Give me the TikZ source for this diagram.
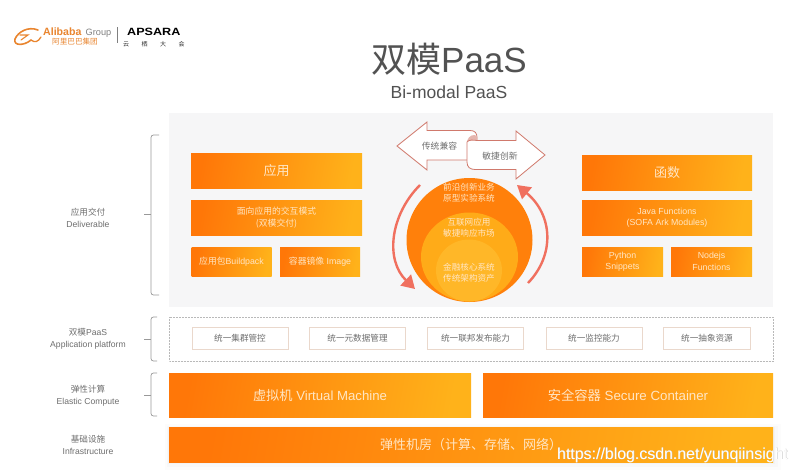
\documentclass[tikz,border=0pt]{standalone}
\usepackage{fontspec}
\setmainfont{Liberation Sans}
\newfontfamily\cjk{Noto Sans CJK SC}
\usetikzlibrary{arrows.meta}
\definecolor{gradL}{HTML}{FF7708}
\definecolor{gradR}{HTML}{FFB21A}
\definecolor{softTxt}{HTML}{FFE6C4}
\definecolor{greyTxt}{HTML}{6E6E6E}
\definecolor{panelBg}{HTML}{F6F6F7}
\definecolor{rim}{HTML}{EAD8CC}
\definecolor{salmon}{HTML}{F0705F}
\definecolor{arrowRim}{HTML}{D0796C}
\definecolor{logoOrange}{HTML}{E9852F}
\tikzset{
  x=1pt,y=-1pt,
  gradbox/.style={left color=gradL,right color=gradR,shading angle=80,draw=none,text=softTxt,align=center,inner sep=0pt,font=\fontsize{8.8}{11.5}\selectfont},
  platbox/.style={draw=rim,fill=white,line width=.7pt,text=greyTxt,inner sep=0pt,minimum height=22pt,font=\cjk\fontsize{8.6}{11}\selectfont},
  layerlabel/.style={text=greyTxt,align=center,inner sep=0pt,font=\fontsize{8.6}{12}\selectfont},
  bracket/.style={draw=greyTxt!70,line width=.7pt,rounded corners=2.5pt},
  cycle arrow/.style={draw=salmon,line width=2.4pt,-{Triangle[length=13pt,width=15pt]}},
  blockarrow/.style={draw=arrowRim,fill=white,line width=.8pt,line join=miter},
  ballLabel/.style={text=softTxt,align=center,inner sep=0pt,font=\cjk\fontsize{8.6}{11.2}\selectfont},
}
\begin{document}
\begin{tikzpicture}
\useasboundingbox (0,0) rectangle (798,474);
\fill[white] (0,0) rectangle (798,474);
% logo
\draw[draw=logoOrange,line width=1.6pt,line cap=round] (38,30) .. controls (28,26) and (18,32) .. (15,39) .. controls (13,46) and (24,46) .. (31,40);
\draw[draw=logoOrange,line width=1.1pt,line cap=round] (20,35) -- (28,35) -- (21,40);
\draw[draw=logoOrange,line width=1.3pt,line cap=round] (31,40) .. controls (35,43) and (38,42) .. (41,37);
\node[inner sep=0pt,anchor=base west,text=logoOrange] (alibaba) at (43,35) {\fontsize{10.6}{12}\selectfont\bfseries Alibaba};
\node[inner sep=0pt,anchor=base west,text=gray] (group) at (85.5,35) {\fontsize{9.2}{11}\selectfont Group};
\node[inner sep=0pt,anchor=west,text=logoOrange] (alicn) at (52,42) {\cjk\fontsize{7.6}{9}\selectfont 阿里巴巴集团};
\draw[gray,line width=.7pt] (117,27) -- (117,43);
\node[inner sep=0pt,anchor=base west,text=black,xscale=1.2,transform shape] (apsara) at (127,35) {\fontsize{10.5}{12}\selectfont\bfseries APSARA};
\node[inner sep=0pt,anchor=west,text=black!80] (yunqi) at (123,44) {\cjk\fontsize{6}{7}\selectfont 云\hspace{12.5pt}栖\hspace{12.5pt}大\hspace{12.5pt}会};
% title
\node[inner sep=0pt,text=black!68] (title) at (449,59) {\fontsize{35}{38}\selectfont{\cjk 双模}PaaS};
\node[inner sep=0pt,text=black!68] (subtitle) at (449,92) {\fontsize{17.5}{20}\selectfont Bi-modal PaaS};
% panel
\fill[panelBg] (169,113) rectangle (773,307);
% left boxes
\node[gradbox,minimum width=171pt,minimum height=35pt] (app) at (276.5,170.5) {\cjk\fontsize{13}{15}\selectfont 应用};
\node[gradbox,minimum width=171pt,minimum height=35pt] (mode) at (276.5,217.5) {\cjk 面向应用的交互模式\\\cjk (双模交付)};
\node[gradbox,minimum width=80pt,minimum height=29pt] (buildpack) at (231.5,261.5) {{\cjk 应用包}Buildpack};
\node[gradbox,minimum width=80pt,minimum height=29pt] (image) at (320,261.5) {{\cjk 容器镜像} Image};
% right boxes
\node[gradbox,minimum width=170pt,minimum height=35pt] (func) at (667,172.5) {\cjk\fontsize{13}{15}\selectfont 函数};
\node[gradbox,minimum width=170pt,minimum height=35pt] (java) at (667,217.5) {Java Functions\\(SOFA Ark Modules)};
\node[gradbox,minimum width=81pt,minimum height=29pt] (python) at (622.5,261.5) {Python\\Snippets};
\node[gradbox,minimum width=81pt,minimum height=29pt] (nodejs) at (711.5,261.5) {Nodejs\\Functions};
% circles
\fill[color=gradL!85!gradR] (469.5,240) ellipse (63 and 62);
\fill[color=gradL!12!gradR] (469.5,257) ellipse (48.5 and 44.5);
\fill[color=gradR!94!white] (469,270.5) ellipse (33 and 31);
\node[ballLabel] (ball1) at (469,192.5) {前沿创新业务\\原型实验系统};
\node[ballLabel] (ball2) at (469,227.5) {互联网应用\\敏捷响应市场};
\node[ballLabel] (ball3) at (469,272.5) {金融核心系统\\传统架构资产};
% block arrows
\draw[blockarrow] (397,146) -- (427,122) -- (427,130.5) -- (470,130.5) .. controls (475,130.5) and (477,133) .. (477,138) -- (477,160) -- (427,160) -- (427,170) -- cycle;
\fill[arrowRim!55] (467,141) .. controls (469,135) and (474,134) .. (477,136) -- (477,141) -- cycle;
\draw[blockarrow] (467,142) .. controls (469,139.5) and (473,140) .. (477,140.5) -- (516,140.5) -- (516,131) -- (545,155) -- (516,179) -- (516,169.5) -- (475,169.5) .. controls (470,169.5) and (467,167) .. (467,162) -- cycle;
\node[inner sep=0pt,text=greyTxt] (compat) at (439.5,146) {\cjk\fontsize{8.8}{11}\selectfont 传统兼容};
\node[inner sep=0pt,text=greyTxt] (agile) at (500,156) {\cjk\fontsize{8.8}{11}\selectfont 敏捷创新};
% cycle arrows
\coordinate (la) at (420,185);
\coordinate (lb) at (415,289);
\coordinate (ra) at (528,283);
\coordinate (rb) at (517,185);
\draw[cycle arrow] (la) .. controls (390,215) and (385,260) .. (lb);
\draw[cycle arrow] (ra) .. controls (555,255) and (553,215) .. (rb);
% platform row
\draw[draw=gray!55,line width=.5pt,densely dotted] (169,317) rectangle (773,361);
\node[platbox,minimum width=96pt] (p1) at (240,338.5) {统一集群管控};
\node[platbox,minimum width=96pt] (p2) at (357.5,338.5) {统一元数据管理};
\node[platbox,minimum width=96pt] (p3) at (475.5,338.5) {统一联邦发布能力};
\node[platbox,minimum width=96pt] (p4) at (594,338.5) {统一监控能力};
\node[platbox,minimum width=87pt] (p5) at (707,338.5) {统一抽象资源};
% bars
\fill[black,opacity=.012] (165,424) rectangle (781,470);
\fill[black,opacity=.015] (167,426) rectangle (778,467);
\fill[black,opacity=.02] (168,427) rectangle (775,464);
\node[gradbox,minimum width=302pt,minimum height=44pt,font=\fontsize{13.2}{15}\selectfont] (vm) at (320,395) {{\cjk 虚拟机} Virtual Machine};
\node[gradbox,minimum width=290pt,minimum height=44pt,font=\fontsize{13.3}{15}\selectfont] (secure) at (628,395) {{\cjk 安全容器} Secure Container};
\node[gradbox,minimum width=604pt,minimum height=35pt,font=\cjk\fontsize{13}{15}\selectfont] (infra) at (471,444.5) {弹性机房（计算、存储、网络）};
% brackets
\draw[bracket] (159,135) -- (151,135) -- (151,295) -- (159,295);
\draw[bracket] (144,214) -- (151,214);
\draw[bracket] (157,317) -- (151,317) -- (151,361) -- (157,361);
\draw[bracket] (144,339) -- (151,339);
\draw[bracket] (157,373) -- (151,373) -- (151,416) -- (157,416);
\draw[bracket] (144,395) -- (151,395);
% layer labels
\node[layerlabel] (l1) at (88,218) {{\cjk 应用交付}\\Deliverable};
\node[layerlabel] (l2) at (88,339) {{\cjk 双模}PaaS\\Application platform};
\node[layerlabel] (l3) at (88,396) {{\cjk 弹性计算}\\Elastic Compute};
\node[layerlabel] (l4) at (88,445) {{\cjk 基础设施}\\Infrastructure};
% watermark
\node[inner sep=0pt,text=gray!45,anchor=west] (wmshadow) at (557.4,455.4) {\fontsize{15.9}{18}\selectfont https://blog.csdn.net/yunqiinsight};
\node[inner sep=0pt,text=white,anchor=west] (wm) at (557,455) {\fontsize{15.9}{18}\selectfont https://blog.csdn.net/yunqiinsight};
\end{tikzpicture}
\end{document}
